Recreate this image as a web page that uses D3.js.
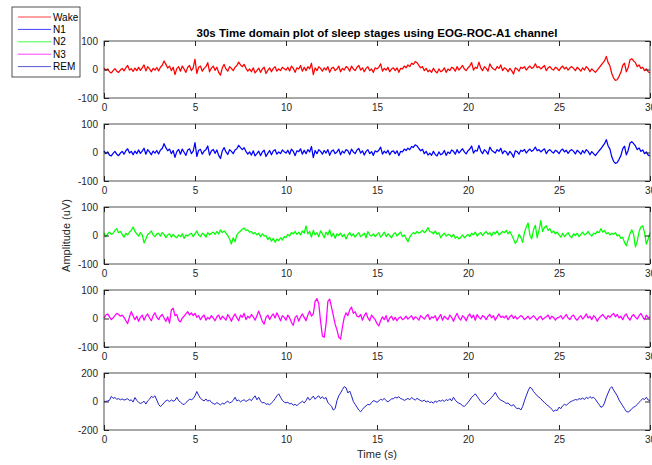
<!DOCTYPE html>
<html>
<head>
<meta charset="utf-8">
<script src="https://cdn.jsdelivr.net/npm/d3@7"></script>
<style>
  body { margin: 0; background: #fff; }
  svg { display: block; font-family: "Liberation Sans", Arial, sans-serif; }
  .tick text { font-size: 10px; fill: #262626; }
  .domain { display: none; }
  .tick line { stroke: #262626; }
</style>
</head>
<body>
<script>
// sleep stages, one trace per stage, sampled every 0.1 s over 30 s
var stages = ["Wake", "N1", "N2", "N3", "REM"];
var sampleStep = 0.1;
var xTicks = [0, 5, 10, 15, 20, 25, 30];
var yLimits = [100, 100, 100, 100, 200];

var wake = [
  5, -3, 2, -8, -12, -4, 3, -6, -10, -2,
  4, -5, 6, 14, -2, 3, -7, 5, -4, 8,
  -3, 6, 16, -5, 10, 2, -8, 4, -2, 7,
  -5, 8, 15, 30, 18, 5, 12, -4, 8, -18,
  3, 10, -6, 12, 2, -10, 8, 14, -4, 6,
  36, -14, 8, 12, -6, 4, 10, 24, -8, 5,
  12, -3, 8, -10, -20, 6, 18, 2, -6, 10,
  4, -4, 8, 14, 26, 16, 10, 18, 4, -6,
  2, -8, 6, -12, -4, 5, -10, 2, 8, -14,
  -3, 6, -8, 4, 10, -6, 2, -4, 8, 3,
  -2, 8, -5, 12, 4, -10, 6, 2, 14, -6,
  8, -4, 10, 2, 22, -18, 6, -4, 10, 4,
  -6, 6, -2, 10, -10, 4, 8, -4, 2, 12,
  -8, 4, -2, 10, 6, -6, 12, 2, -4, 8,
  14, -2, 6, -8, 4, 10, -4, 2, -10, 6,
  2, 8, 20, -6, 4, -2, 8, -8, 2, 6,
  -4, 6, -10, 4, 2, 12, 6, 16, 10, 22,
  18, 28, 24, 14, 6, 10, -4, 4, -8, -2,
  -10, 4, -6, -12, 2, -8, -4, 6, -10, 2,
  -4, 8, 4, -6, 10, -2, 6, 14, 2, -4,
  6, 12, 24, -2, 8, 4, 26, 6, -4, 10,
  4, -6, 20, 8, 2, -2, 10, 4, 16, -4,
  6, 2, -8, 4, -4, -16, 6, 2, -6, 8,
  4, 10, -2, 6, 12, 4, 8, 20, 6, 10,
  2, 8, 14, -4, 6, 10, 2, -2, 8, 4,
  -4, 6, 12, 2, 8, -2, 6, 10, 4, -4,
  8, 2, -6, 6, -2, 10, 4, -8, 2, -4,
  -10, -2, 6, 14, 22, 30, 46, 24, 12, -14,
  -30, -38, -36, -24, -10, 14, 22, -8, 6, 34,
  38, 30, 24, 10, 16, 4, 8, -4, 2, -8,
  -12
];

var n1 = [
  6, -4, 2, -9, -12, -3, 4, -6, -11, -2,
  4, -6, 6, 13, -2, 4, -8, 5, -4, 9,
  -3, 5, 15, -6, 10, 2, -8, 5, -2, 7,
  -5, 9, 14, 31, 17, 6, 12, -4, 7, -17,
  3, 11, -6, 12, 1, -10, 9, 13, -4, 5,
  35, -14, 8, 11, -6, 5, 10, 23, -9, 5,
  11, -3, 9, -10, -21, 6, 17, 2, -7, 10,
  4, -4, 9, 13, 25, 17, 10, 17, 4, -6,
  2, -9, 6, -12, -4, 5, -11, 2, 8, -14,
  -3, 7, -8, 5, 10, -6, 2, -4, 9, 3,
  -2, 8, -6, 12, 4, -11, 6, 3, 13, -6,
  8, -4, 10, 2, 21, -18, 7, -4, 10, 4,
  -6, 7, -2, 10, -10, 4, 9, -4, 2, 12,
  -8, 5, -2, 10, 6, -7, 12, 2, -4, 9,
  14, -2, 6, -9, 4, 10, -4, 3, -10, 6,
  2, 8, 19, -6, 5, -2, 8, -8, 3, 6,
  -4, 6, -11, 4, 2, 12, 7, 15, 10, 21,
  18, 27, 23, 14, 6, 11, -4, 4, -9, -2,
  -10, 4, -7, -12, 2, -8, -4, 7, -10, 2,
  -4, 9, 4, -6, 10, -2, 6, 13, 2, -5,
  6, 12, 23, -2, 8, 5, 25, 6, -4, 10,
  4, -6, 19, 8, 3, -2, 10, 4, 15, -4,
  6, 2, -9, 4, -4, -17, 6, 3, -6, 8,
  4, 11, -2, 6, 12, 4, 9, 19, 6, 10,
  2, 8, 13, -4, 6, 10, 3, -2, 8, 4,
  -4, 7, 12, 2, 8, -3, 6, 10, 4, -5,
  8, 2, -6, 7, -2, 10, 4, -8, 3, -4,
  -11, -2, 6, 13, 22, 31, 45, 23, 12, -15,
  -31, -38, -35, -24, -11, 13, 22, -8, 7, 33,
  38, 31, 23, 10, 16, 4, 9, -4, 2, -9,
  -12
];

var n2 = [
  10, -4, 6, 12, 4, 8, 18, 24, 10, 14,
  4, -6, 8, 2, 12, 18, 30, 14, 6, -2,
  10, 2, -26, -12, 4, 8, 16, 2, -4, 6,
  8, -2, 10, 4, -8, 2, 6, -6, 4, -4,
  -8, 2, -4, 6, -10, 2, -2, 4, 8, -4,
  6, 16, 2, -4, 8, 4, -6, 10, 2, 8,
  12, 4, 14, 6, 20, 10, 16, 8, 0, -12,
  -30, -8, -22, 2, 10, 16, 22, 26, 18, 20,
  12, 14, 6, 10, 2, 8, -4, 6, -2, 0,
  -14, -6, -20, -10, -24, -12, -18, -8, -16, -4,
  -8, 4, -2, 10, 6, 14, 4, 12, 2, 16,
  8, 34, 6, 14, -6, 18, 2, 10, -4, 16,
  6, -8, 12, 2, 20, -4, 8, -10, 6, 0,
  8, -4, 4, -12, 2, 10, -2, 6, -6, 4,
  10, -4, 2, 8, -8, 14, 2, -2, 6, -4,
  4, 10, -6, 2, 12, -4, 6, 0, -8, 4,
  10, -2, 6, 12, -4, 2, -10, -22, -6, 4,
  10, 6, 14, 8, 12, 18, 10, 16, 28, 14,
  12, 6, 16, 4, 10, -8, 2, 8, -2, 4,
  2, -6, 4, -10, -4, -12, -6, 2, -8, -2,
  4, -4, 8, 2, 12, -2, 6, 10, 0, 8,
  14, 4, 10, -2, 12, 6, 16, 2, 8, 14,
  10, 18, 6, 14, 2, -12, -28, -18, 4, -6,
  -24, 10, 30, 44, 2, -12, 20, 36, -8, 18,
  52, 14, 28, 34, 18, 24, 10, 16, 6, 12,
  2, -6, 8, -4, 4, 10, -2, -8, 6, 0,
  8, -4, 4, 12, 2, 6, 14, 4, -2, 8,
  6, 14, 10, 24, 12, 18, 6, 10, 2, 8,
  4, 10, -2, 2, -10, -6, -24, -36, -14, 6,
  20, 4, -40, -20, 14, 30, 34, 10, -30, -12,
  10
];

var n3 = [
  2, 12, 16, 6, -4, 2, 10, 18, 14, 8,
  12, 4, -8, -18, 6, 24, 10, -4, 8, -10,
  4, 12, -6, 8, 16, 2, -8, 10, 20, 4,
  -4, 8, 14, 2, -10, 6, -16, 30, 36, 10,
  14, -6, -12, 2, 8, 16, 24, 12, 20, 10,
  18, 4, 10, -4, 6, 12, -6, 4, -2, 10,
  2, -8, 6, 12, -4, 8, 2, -6, 14, 4,
  -10, 6, 16, 2, -8, 12, 4, 18, -4, 8,
  2, 14, 6, -6, 10, 26, 8, -10, -20, 4,
  12, -4, 8, 16, 2, 20, 6, -8, 10, 4,
  -6, 12, 2, -14, -24, 4, 10, -10, 6, 16,
  4, -8, 12, 26, 8, 16, 60, 70, 52, -10,
  -62, -66, -20, 60, 68, 40, 10, -20, -40, -66,
  -72, -30, 4, 20, 10, 30, 40, 18, 24, 8,
  6, 14, -6, 10, 20, 2, -8, 12, 4, -4,
  -18, -26, -8, 6, -4, 10, -12, 2, 8, -6,
  4, -8, 2, 6, -4, 0, 8, -2, 4, 10,
  -4, 6, 2, -6, 10, 4, -2, 8, 14, -4,
  6, 2, 10, -8, 4, 14, -6, 8, 2, -4,
  12, 4, -10, 6, 18, 2, -6, 10, 4, -8,
  8, 16, 2, 12, -6, 14, 4, -2, 10, 6,
  -4, 8, 14, 2, 10, -6, 6, 16, 4, 8,
  2, 10, -4, 6, 12, 0, 8, -2, 4, 10,
  6, -4, 2, 8, -2, 4, 10, 2, -6, 4,
  8, -4, 2, 6, 12, -2, 8, 4, -6, 2,
  4, 10, -2, 6, 14, 2, -4, 8, 12, 0,
  -6, 4, 10, -2, 6, 16, 2, 8, -4, 10,
  4, -10, 2, 8, 14, 6, -2, 10, 4, 12,
  18, 6, 14, 2, 8, -4, 10, 16, 2, -6,
  8, 14, 4, -2, 10, 18, 6, -4, 12, 2,
  6
];

var rem = [
  2, 0, 4, 8, 36, 22, 28, 16, 20, 12,
  18, 10, 14, 20, 6, 12, -4, 28, 8, -6,
  -14, -8, 2, -18, 4, 16, 36, 28, 40, 10,
  -20, -36, -24, -8, 4, 10, -2, 12, 2, 8,
  30, 6, -4, -16, -22, -8, 4, 16, 12, 20,
  40, 70, 44, 22, 12, 4, 18, 2, 10, -6,
  -14, -20, -8, -16, -24, -12, -18, -6, 2, -10,
  -4, 8, 30, 4, 10, -2, 6, 12, 0, 8,
  16, 6, 24, 40, 12, 30, 4, -10, -6, -20,
  -16, -24, -10, 2, 20, 40, 54, 30, 8, -4,
  -10, -4, -18, -12, -26, -20, -30, -16, -8, 2,
  -10, 6, 30, 10, 22, 38, 16, 30, 40, 20,
  34, 18, 28, -8, -20, -34, -60, -50, 6, 40,
  60, 84, 104, 96, 60, 74, 40, 0, -20, -40,
  -60, -72, -56, -40, -30, -20, -24, -8, 6, 2,
  -6, 4, 16, 10, 22, 6, -2, 8, 18, 20,
  30, 24, 34, 20, 16, 8, 14, 22, 12, 28,
  18, 10, 22, 14, 6, 2, 10, -4, 4, -8,
  -2, -12, 4, -6, 8, 2, 10, 0, 14, 6,
  20, 4, 30, 10, -4, -12, -18, -30, -34, -22,
  -6, 10, 30, 40, 54, 36, 18, 0, -12, -20,
  -10, 4, 14, 30, 44, 64, 40, 20, 10, 4,
  -4, -14, -10, -24, -30, -22, -40, -50, -46, -60,
  -36, 4, 40, 74, 100, 92, 70, 56, 40, 30,
  20, 4, -6, -20, -30, -40, -54, -70, -60, -64,
  -40, -50, -30, -20, -26, -16, -4, 2, 8, 14,
  10, 20, 16, 24, 14, 30, 20, 34, 24, 30,
  16, -4, -20, -40, -36, -10, 30, 60, 90, 104,
  80, 60, 40, 10, -10, -30, -50, -70, -74, -66,
  -50, -40, -34, -20, -6, 8, 20, 14, 30, 10,
  8
];

var series = [wake, n1, n2, n3, rem];
var colors = ["#ff0000", "#0000ff", "#00ff00", "#ff00ff", "#2020c8"];

var width = 652, height = 465;
var left = 104, right = 650;
var plotTop = 41, plotH = 57, plotGap = 83;

var svg = d3.select("body").append("svg")
    .attr("width", width)
    .attr("height", height);

var x = d3.scaleLinear().domain([0, 30]).range([left, right]);

series.forEach(function(values, i) {
    var top = plotTop + i * plotGap;
    var lim = yLimits[i];
    var y = d3.scaleLinear().domain([-lim, lim]).range([top + plotH, top]);

    var g = svg.append("g");

    g.append("rect")
        .attr("x", left).attr("y", top)
        .attr("width", right - left).attr("height", plotH)
        .attr("fill", "#fff");

    var line = d3.line()
        .x(function(d, j) { return x(j * sampleStep); })
        .y(function(d) { return y(d); });

    g.append("path")
        .datum(values)
        .attr("fill", "none")
        .attr("stroke", colors[i])
        .attr("stroke-width", i == 4 ? 1 : 1.25)
        .attr("stroke-linejoin", "round")
        .attr("d", line);

    // ticks point inward like matlab
    g.append("g")
        .attr("transform", "translate(0," + (top + plotH) + ")")
        .call(d3.axisBottom(x).tickValues(xTicks).tickSize(-5).tickPadding(6)
            .tickFormat(function(d) { return String(d); }));
    g.append("g")
        .attr("transform", "translate(0," + top + ")")
        .call(d3.axisTop(x).tickValues(xTicks).tickSize(-5).tickFormat(""));

    var yTicks = [-lim, 0, lim];
    g.append("g")
        .attr("transform", "translate(" + left + ",0)")
        .call(d3.axisLeft(y).tickValues(yTicks).tickSize(-5).tickPadding(6)
            .tickFormat(function(d) { return String(d); }));
    g.append("g")
        .attr("transform", "translate(" + right + ",0)")
        .call(d3.axisRight(y).tickValues(yTicks).tickSize(-5).tickFormat(""));

    g.append("rect")
        .attr("x", left).attr("y", top)
        .attr("width", right - left).attr("height", plotH)
        .attr("fill", "none")
        .attr("stroke", "#262626")
        .attr("stroke-width", 0.8);
});

svg.append("text")
    .attr("x", (left + right) / 2)
    .attr("y", 37)
    .attr("text-anchor", "middle")
    .attr("font-size", 11.5)
    .attr("font-weight", "bold")
    .attr("fill", "#000")
    .text("30s Time domain plot of sleep stages using EOG-ROC-A1 channel");

svg.append("text")
    .attr("x", (left + right) / 2)
    .attr("y", 458)
    .attr("text-anchor", "middle")
    .attr("font-size", 11)
    .attr("fill", "#262626")
    .text("Time (s)");

svg.append("text")
    .attr("transform", "translate(70," + (plotTop + 2 * plotGap + plotH / 2) + ") rotate(-90)")
    .attr("text-anchor", "middle")
    .attr("font-size", 11)
    .attr("fill", "#262626")
    .text("Amplitude (uV)");

// legend
var legend = svg.append("g");
legend.append("rect")
    .attr("x", 12).attr("y", 7)
    .attr("width", 68).attr("height", 70)
    .attr("fill", "#fff")
    .attr("stroke", "#262626")
    .attr("stroke-width", 0.8);

stages.forEach(function(name, i) {
    var ly = 17 + i * 12.4;
    legend.append("line")
        .attr("x1", 18).attr("x2", 51)
        .attr("y1", ly).attr("y2", ly)
        .attr("stroke", colors[i])
        .attr("stroke-opacity", 0.75)
        .attr("stroke-width", 1);
    legend.append("text")
        .attr("x", 53).attr("y", ly + 3.5)
        .attr("font-size", 10)
        .attr("fill", "#000")
        .text(name);
});
</script>
</body>
</html>
